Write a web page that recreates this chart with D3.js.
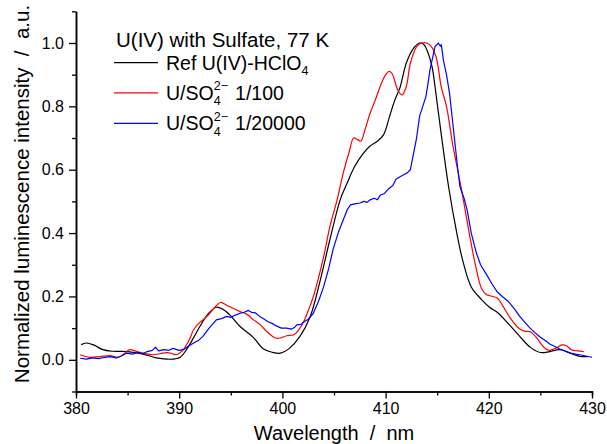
<!DOCTYPE html>
<html><head><meta charset="utf-8">
<script src="https://cdn.jsdelivr.net/npm/d3@7"></script>
<style>body{margin:0;background:#fff}svg{display:block;font-family:"Liberation Sans",Arial,sans-serif}</style>
</head><body><svg id="c" width="607" height="444"></svg>
<script>
const xTicks=[380,390,400,410,420,430];
const yTicks=[0.0,0.2,0.4,0.6,0.8,1.0];
const legendTitle="U(IV) with Sulfate, 77 K";
const seriesNames=["Ref U(IV)-HClO","U/SO","U/SO"];
const seriesColors=["#000000","#ff0000","#0000ff"];
const refX=[380.5,381.0,381.7,382.6,383.5,385.0,386.5,387.8,388.8,389.6,390.1,390.7,391.4,392.0,392.8,393.6,394.2,394.9,395.9,397.2,398.1,399.0,399.8,400.7,401.7,402.7,403.6,404.6,405.6,406.3,407.0,407.8,408.5,409.2,409.8,410.4,410.9,411.4,412.0,412.7,413.3,413.7,414.0,414.5,414.8,415.4,416.1,416.9,417.5,418.3,419.3,420.1,420.9,422.0,423.0,424.0,425.0,425.9,426.9,427.9,428.8,429.6];
const refY=[0.048,0.053,0.047,0.032,0.027,0.026,0.018,0.006,0.002,0.003,0.008,0.032,0.07,0.105,0.145,0.166,0.16,0.142,0.105,0.07,0.036,0.024,0.021,0.037,0.074,0.137,0.242,0.379,0.505,0.56,0.61,0.65,0.675,0.69,0.71,0.77,0.82,0.86,0.936,0.983,1.0,0.995,0.978,0.925,0.86,0.71,0.547,0.4,0.31,0.23,0.19,0.165,0.148,0.11,0.074,0.04,0.023,0.026,0.032,0.021,0.011,0.01];
const s100X=[380.4,381.3,382.3,383.3,384.1,384.7,385.2,385.9,386.7,387.5,388.2,388.8,389.3,389.6,390.0,390.4,391.0,391.4,392.0,392.7,393.3,394.0,394.6,395.2,395.9,396.5,397.2,397.8,398.5,399.0,399.4,399.9,400.4,401.1,401.6,402.0,402.5,403.0,404.0,404.6,405.3,405.9,406.5,406.9,407.3,407.6,408.0,408.5,409.0,409.5,410.0,410.3,410.6,411.2,411.6,412.0,412.4,413.0,413.5,414.0,414.4,414.9,415.4,415.9,416.5,417.3,418.1,418.7,419.3,419.8,420.4,420.8,421.1,422.1,423.0,423.5,424.0,424.5,425.0,425.5,425.9,426.5,427.1,427.5,428.0,428.6,429.2];
const s100Y=[0.016,0.008,0.01,0.013,0.008,0.02,0.032,0.026,0.02,0.016,0.02,0.023,0.02,0.016,0.02,0.032,0.065,0.095,0.118,0.137,0.16,0.181,0.172,0.163,0.152,0.145,0.126,0.112,0.089,0.075,0.068,0.07,0.076,0.079,0.095,0.116,0.155,0.2,0.326,0.42,0.505,0.59,0.66,0.7,0.695,0.69,0.726,0.778,0.82,0.865,0.9,0.91,0.905,0.85,0.836,0.862,0.936,0.988,1.0,1.0,0.99,0.955,0.86,0.8,0.68,0.547,0.4,0.3,0.225,0.205,0.2,0.195,0.184,0.131,0.097,0.09,0.089,0.075,0.053,0.035,0.03,0.037,0.047,0.045,0.032,0.028,0.026];
const s20kX=[380.4,381.0,381.6,382.2,382.8,383.3,383.9,384.4,384.9,385.5,386.0,386.5,386.9,387.4,387.7,388.0,388.5,389.0,389.4,390.0,390.5,391.0,391.4,391.9,392.3,392.9,393.6,394.1,394.6,395.0,395.5,395.9,396.3,396.7,397.0,397.4,397.8,398.1,398.6,399.0,399.4,399.9,400.4,400.9,401.2,401.4,401.8,402.0,402.5,403.0,403.5,404.0,404.5,404.9,405.4,405.9,406.3,406.6,407.0,407.5,407.9,408.2,408.5,408.9,409.2,409.5,409.9,410.3,410.7,411.0,411.4,411.8,412.1,412.4,412.7,413.0,413.3,413.6,413.9,414.1,414.3,414.6,414.8,415.0,415.1,415.3,415.4,415.6,415.9,416.2,416.6,417.0,417.2,417.6,417.9,418.3,418.8,419.2,419.8,420.3,420.8,421.3,421.9,422.5,423.0,423.5,424.0,424.5,425.0,425.5,425.9,426.4,426.9,427.4,427.9,428.4,428.8,429.4,430.0];
const s20kY=[0.005,0.002,0.006,0.004,0.008,0.01,0.006,0.012,0.021,0.018,0.024,0.02,0.026,0.03,0.04,0.028,0.032,0.03,0.036,0.03,0.034,0.045,0.053,0.062,0.074,0.1,0.126,0.13,0.137,0.134,0.142,0.147,0.15,0.156,0.15,0.148,0.137,0.131,0.12,0.115,0.107,0.1,0.1,0.097,0.103,0.11,0.112,0.118,0.128,0.147,0.185,0.231,0.29,0.347,0.4,0.442,0.475,0.489,0.492,0.495,0.5,0.497,0.505,0.51,0.505,0.52,0.525,0.54,0.55,0.57,0.578,0.585,0.59,0.6,0.65,0.7,0.77,0.8,0.83,0.87,0.915,0.96,0.99,0.995,1.0,0.99,0.995,0.946,0.9,0.84,0.72,0.6,0.547,0.51,0.473,0.4,0.337,0.3,0.268,0.24,0.215,0.2,0.184,0.16,0.137,0.118,0.1,0.085,0.071,0.06,0.05,0.042,0.034,0.028,0.021,0.018,0.016,0.012,0.008];
const seriesX=[refX,s100X,s20kX];
const seriesY=[refY,s100Y,s20kY];

const svg=d3.select("#c");
const x=d3.scaleLinear().domain([380,430]).range([76,592]);
const y=d3.scaleLinear().domain([-0.1,1.1]).range([391.5,11.3]);

// data lines
const line=d3.line().x(d=>x(d[0])).y(d=>y(d[1]));
[0,1,2].forEach(i=>{
  const pts=seriesX[i].map((v,j)=>[v,seriesY[i][j]]);
  svg.append("path").datum(pts)
    .attr("d",line.curve(i===2?d3.curveLinear:d3.curveCatmullRom)(pts))
    .attr("fill","none").attr("stroke",seriesColors[i]).attr("stroke-width",1.2)
    .attr("stroke-linejoin","round");
});

// axes
const xMinor=d3.range(385,430,10);
const yMinor=d3.range(-0.1,1.15,0.2).map(v=>+v.toFixed(2));
const gx=svg.append("g").attr("transform","translate(0,391.5)");
gx.call(d3.axisBottom(x).tickValues(xMinor).tickSize(4).tickFormat(""));
gx.call(g=>g.selectAll(".tick text").remove());
const gx2=svg.append("g").attr("transform","translate(0,391.5)");
gx2.call(d3.axisBottom(x).tickValues(xTicks).tickSize(7).tickSizeOuter(0).tickPadding(4).tickFormat(d3.format("d")));
const gy=svg.append("g").attr("transform","translate(76,0)");
gy.call(d3.axisLeft(y).tickValues(yMinor).tickSize(4).tickSizeOuter(0).tickFormat(""));
gy.call(g=>g.selectAll(".tick text").remove());
const gy2=svg.append("g").attr("transform","translate(76,0)");
gy2.call(d3.axisLeft(y).tickValues(yTicks).tickSize(7).tickSizeOuter(0).tickPadding(5).tickFormat(d3.format(".1f")));
svg.selectAll(".domain").attr("stroke","#000").attr("stroke-width",1.5);
svg.selectAll(".tick line").attr("stroke","#000").attr("stroke-width",1.3);
svg.selectAll(".tick text").attr("fill","#000").style("font-size","16px").style("font-family","'Liberation Sans',Arial,sans-serif");

// axis titles
svg.append("text").attr("x",334).attr("y",440).attr("text-anchor","middle")
  .style("font-size","20px").attr("xml:space","preserve").text("Wavelength  /  nm");
svg.append("text").attr("transform","translate(29,194) rotate(-90)").attr("text-anchor","middle")
  .style("font-size","20.5px").attr("xml:space","preserve").text("Normalized luminescence intensity  /  a.u.");

// legend
const lg=svg.append("g");
lg.append("text").attr("x",116).attr("y",47).style("font-size","20.5px").text(legendTitle);
const rowY=[62.7,92.8,123.3];
const tails=["", " 1/100"," 1/20000"];
rowY.forEach((ry,i)=>{
  lg.append("line").attr("x1",114).attr("x2",158).attr("y1",ry).attr("y2",ry)
    .attr("stroke",seriesColors[i]).attr("stroke-width",1.2);
  const t=lg.append("text").attr("x",166).attr("y",ry+7).style("font-size","19.5px").text(seriesNames[i]);
  const w=t.node().getComputedTextLength();
  lg.append("text").attr("x",166+w).attr("y",ry+12.5).style("font-size","12.5px").text("4");
  if(i>0){
    lg.append("text").attr("x",166+w).attr("y",ry-2.5).style("font-size","12.5px").text("2\u2212");
    lg.append("text").attr("x",166+w+16).attr("y",ry+7).style("font-size","19.5px").attr("xml:space","preserve").text(tails[i]);
  }
});
</script></body></html>
